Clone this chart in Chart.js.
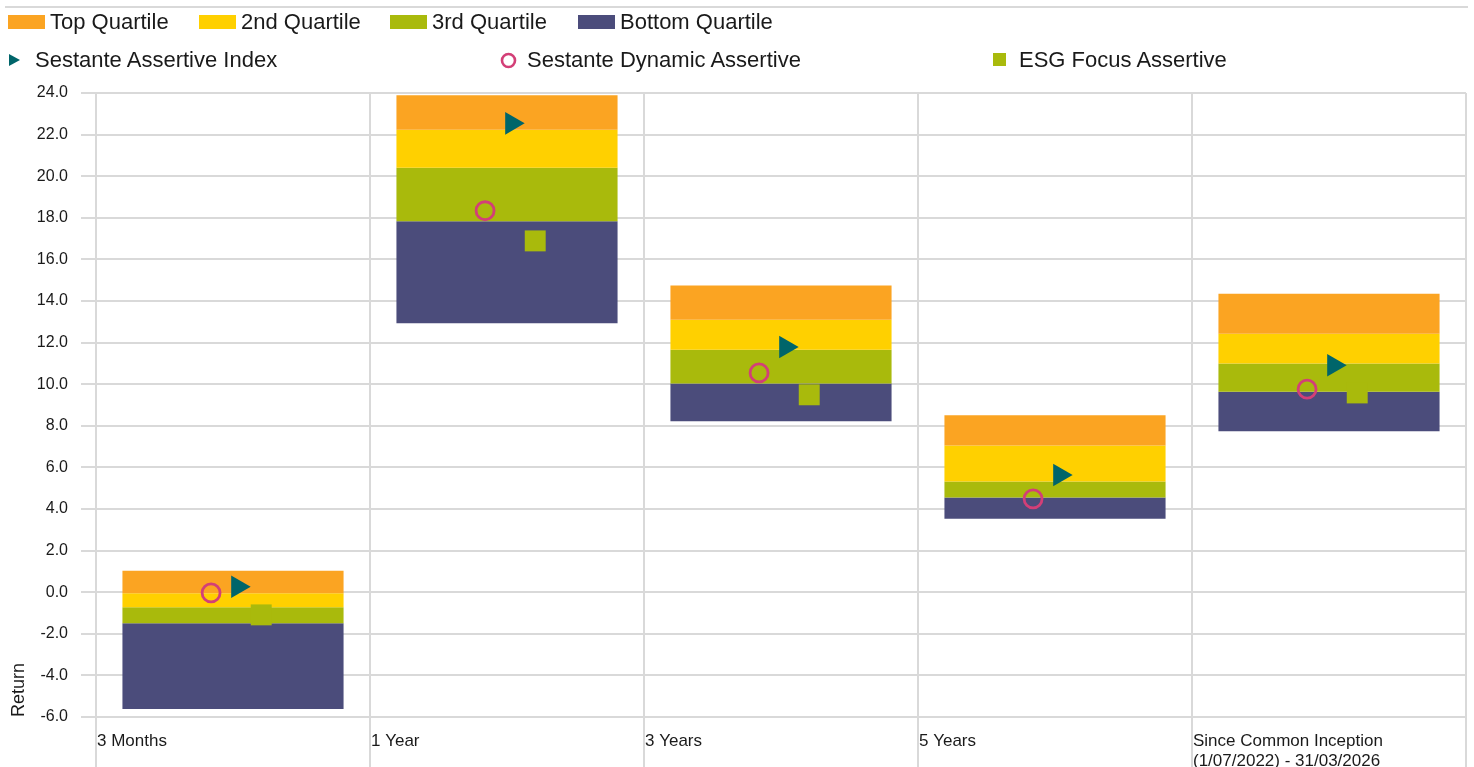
<!DOCTYPE html>
<html>
<head>
<meta charset="utf-8">
<script src="https://cdn.jsdelivr.net/npm/chart.js@4/dist/chart.umd.min.js"></script>
<style>
  html, body { margin: 0; padding: 0; background: #fff; }
  #wrap { position: relative; width: 1474px; height: 767px; font-family: "Liberation Sans", Arial, sans-serif; color: #1a1a1a; }
  #wrap canvas { position: absolute; left: 0; top: 0; }
  .rule { position: absolute; left: 5px; top: 6px; width: 1463px; height: 2px; background: #d9d9d9; }
  .item { position: absolute; height: 26px; line-height: 26px; font-size: 22px; white-space: nowrap; }
  .item .sw { position: absolute; }
  .item span { position: absolute; top: 0; }
</style>
</head>
<body>
<div id="wrap">
  <canvas id="chart" width="1474" height="767"></canvas>
  <div class="rule"></div>
  <div id="legend"></div>
</div>
<script>
// categories (periods)
var periods = ['3 Months', '1 Year', '3 Years', '5 Years', ['Since Common Inception', '(1/07/2022) - 31/03/2026']];

// peer group quartile boundaries
var maxValues      = [1.03, 23.89, 14.75, 8.51, 14.35];
var upperQuartile  = [-0.05, 22.23, 13.10, 7.05, 12.43];
var medianValues   = [-0.72, 20.41, 11.66, 5.32, 10.99];
var lowerQuartile  = [-1.49, 17.83, 10.03, 4.55, 9.64];
var minValues      = [-5.62, 12.93, 8.22, 3.53, 7.74];

// funds
var assertiveIndex   = [0.26, 22.54, 11.79, 5.64, 10.91];
var dynamicAssertive = [-0.03, 18.34, 10.54, 4.49, 9.76];
var esgFocus         = [-1.09, 16.89, 9.49, null, 9.58];

var yTicks = { min: -6, max: 24, step: 2 };

var colors = {
  top: '#FBA422', second: '#FFD000', third: '#A9BA0C', bottom: '#4B4C7B',
  index: '#00656A', dynamic: '#D33F77', esg: '#A9BA0C', grid: '#d9d9d9'
};

function pairs(lo, hi) {
  return lo.map(function(v, i) { return [v, hi[i]]; });
}
// marker x placed within the category slot
function points(vals, shift) {
  return vals.map(function(v, i) { return { x: i + shift, y: v }; });
}

// html legend
var legendItems = [
  { label: 'Top Quartile', color: colors.top, left: 8, top: 9, kind: 'box' },
  { label: '2nd Quartile', color: colors.second, left: 199, top: 9, kind: 'box' },
  { label: '3rd Quartile', color: colors.third, left: 390, top: 9, kind: 'box' },
  { label: 'Bottom Quartile', color: colors.bottom, left: 578, top: 9, kind: 'box' },
  { label: 'Sestante Assertive Index', color: colors.index, left: 8, top: 47, kind: 'tri' },
  { label: 'Sestante Dynamic Assertive', color: colors.dynamic, left: 500, top: 47, kind: 'circle' },
  { label: 'ESG Focus Assertive', color: colors.esg, left: 992, top: 47, kind: 'square' }
];
var legendEl = document.getElementById('legend');
legendItems.forEach(function(it) {
  var d = document.createElement('div');
  d.className = 'item';
  d.style.left = it.left + 'px';
  d.style.top = it.top + 'px';
  var sw = '';
  var textLeft = 27;
  if (it.kind === 'box') {
    sw = '<div class="sw" style="left:0;top:6px;width:37px;height:14px;background:' + it.color + '"></div>';
    textLeft = 42;
  } else if (it.kind === 'tri') {
    sw = '<svg class="sw" style="left:1px;top:7px" width="12" height="12"><polygon points="0,0 11,6 0,12" fill="' + it.color + '"/></svg>';
  } else if (it.kind === 'circle') {
    sw = '<svg class="sw" style="left:0;top:5px" width="17" height="17"><circle cx="8.5" cy="8.5" r="6.5" fill="none" stroke="' + it.color + '" stroke-width="2.6"/></svg>';
  } else {
    sw = '<div class="sw" style="left:1px;top:6px;width:13px;height:13px;background:' + it.color + '"></div>';
  }
  d.innerHTML = sw + '<span style="left:' + textLeft + 'px">' + it.label + '</span>';
  legendEl.appendChild(d);
});

function noPad(s) { s.paddingLeft = 0; s.paddingRight = 0; s.paddingTop = 0; s.paddingBottom = 0; }

var ctx = document.getElementById('chart').getContext('2d');
var chart = new Chart(ctx, {
  type: 'bar',
  data: {
    labels: periods,
    datasets: [
      { type: 'scatter', label: 'Sestante Assertive Index', data: points(assertiveIndex, 0.017), xAxisID: 'xm', order: 0,
        pointStyle: 'triangle', rotation: 90, pointRadius: 13, backgroundColor: colors.index, borderWidth: 0 },
      { type: 'scatter', label: 'Sestante Dynamic Assertive', data: points(dynamicAssertive, -0.080), xAxisID: 'xm', order: 0,
        pointStyle: 'circle', pointRadius: 9, backgroundColor: 'rgba(0,0,0,0)', borderColor: colors.dynamic, borderWidth: 2.8 },
      { type: 'scatter', label: 'ESG Focus Assertive', data: points(esgFocus, 0.103), xAxisID: 'xm', order: 0,
        pointStyle: 'rect', pointRadius: 14.8, backgroundColor: colors.esg, borderWidth: 0 },
      { label: 'Top Quartile', data: pairs(upperQuartile, maxValues), backgroundColor: colors.top, order: 1 },
      { label: '2nd Quartile', data: pairs(medianValues, upperQuartile), backgroundColor: colors.second, order: 1 },
      { label: '3rd Quartile', data: pairs(lowerQuartile, medianValues), backgroundColor: colors.third, order: 1 },
      { label: 'Bottom Quartile', data: pairs(minValues, lowerQuartile), backgroundColor: colors.bottom, order: 1 }
    ]
  },
  options: {
    responsive: false,
    animation: false,
    events: [],
    layout: { autoPadding: false, padding: { left: 0, right: 8, top: 93, bottom: 0 } },
    datasets: { bar: { categoryPercentage: 1, barPercentage: 0.807, grouped: false } },
    plugins: { legend: { display: false }, tooltip: { enabled: false } },
    scales: {
      x: {
        type: 'category',
        stacked: true,
        offset: true,
        border: { display: false },
        grid: { offset: true, color: colors.grid, lineWidth: 2, tickLength: 50 },
        ticks: {
          align: 'start', labelOffset: -136, padding: -36, autoSkip: false, maxRotation: 0,
          color: '#1a1a1a', font: { family: 'Liberation Sans', size: 17, lineHeight: 1.2 }
        },
        afterFit: function(s) { s.height = 50; noPad(s); }
      },
      xm: {
        type: 'linear', display: false, offset: false, grid: { offset: false },
        min: -0.5, max: periods.length - 0.5,
        afterFit: function(s) { s.height = 0; noPad(s); }
      },
      y: {
        min: yTicks.min, max: yTicks.max,
        border: { display: false },
        grid: { color: colors.grid, lineWidth: 2, tickLength: 15 },
        ticks: {
          stepSize: yTicks.step, padding: 13, color: '#1a1a1a',
          font: { family: 'Liberation Sans', size: 16 },
          callback: function(v) { return v.toFixed(1); }
        },
        title: {
          display: true, text: 'Return', align: 'start', color: '#1a1a1a',
          font: { family: 'Liberation Sans', size: 18 }, padding: { top: 8, bottom: 0 }
        },
        afterFit: function(s) { s.width = 96; noPad(s); }
      }
    }
  }
});
</script>
</body>
</html>
